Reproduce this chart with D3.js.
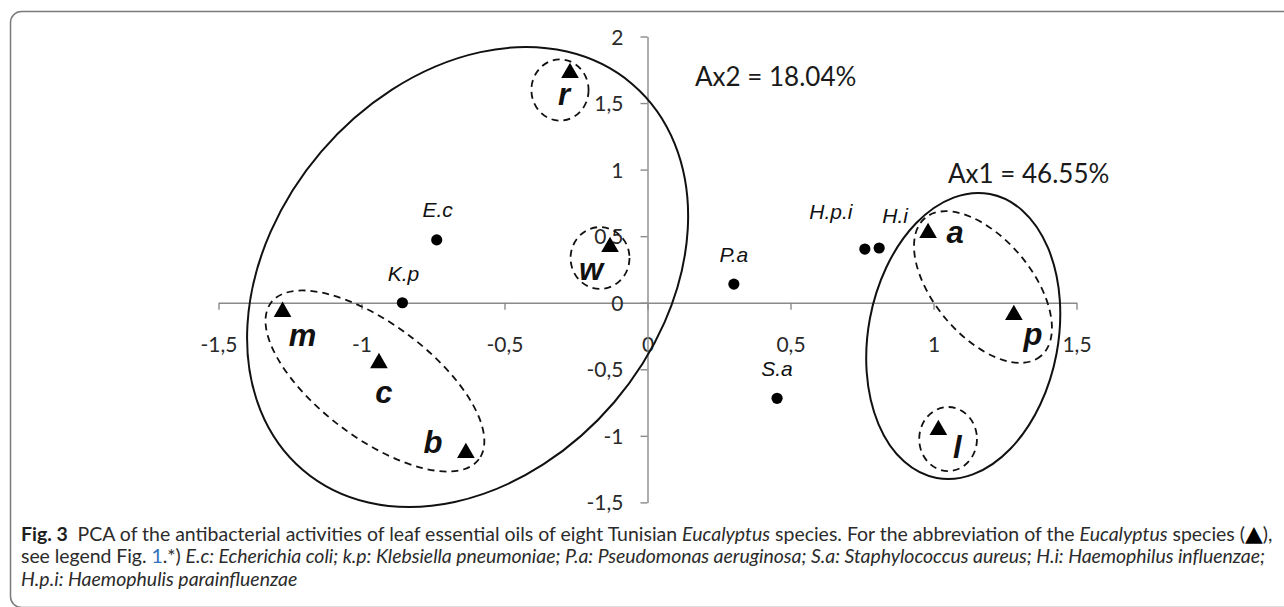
<!DOCTYPE html>
<html>
<head>
<meta charset="utf-8">
<script src="https://cdn.jsdelivr.net/npm/d3@7"></script>
<style>
  body { margin: 0; background: #fff; }
  svg { display: block; }
</style>
</head>
<body>
<svg id="chart" width="1284" height="607"></svg>
<script>
// Eucalyptus species scores (triangles)
const speciesNames = ["r", "w", "m", "c", "b", "a", "p", "l"];
const speciesAx1 = [-0.271, -0.131, -1.276, -0.939, -0.635, 0.981, 1.281, 1.017];
const speciesAx2 = [1.726, 0.419, -0.068, -0.453, -1.129, 0.524, -0.092, -0.956];

// bacteria scores (dots)
const bacteriaNames = ["E.c", "K.p", "P.a", "H.p.i", "H.i", "S.a"];
const bacteriaAx1 = [-0.737, -0.857, 0.302, 0.76, 0.81, 0.453];
const bacteriaAx2 = [0.472, 0.0, 0.14, 0.403, 0.411, -0.718];

// tick values
const xTicks = [-1.5, -1, -0.5, 0, 0.5, 1, 1.5];
const yTicks = [-1.5, -1, -0.5, 0, 0.5, 1, 1.5, 2];

// grouping ellipses: centre on the axes, radii in Ax1 units, rotation in degrees
const groupCx = [-0.629, 1.104, -0.306, -0.166, -0.953, 1.173, 1.051];
const groupCy = [0.193, -0.25, 1.598, 0.336, -0.588, 0.118, -1.024];
const groupRx = [0.887, 0.332, 0.100, 0.103, 0.455, 0.315, 0.101];
const groupRy = [0.674, 0.505, 0.107, 0.108, 0.199, 0.171, 0.112];
const groupAngle = [-49.5, 10.6, 0, 0, 37, 50, 0];
const groupDashed = [false, false, true, true, true, true, true];

const axisTitles = ["Ax2 = 18.04%", "Ax1 = 46.55%"];

// label placement (pixels from the mark, baseline)
const speciesLabelOffset = {
    r: [-6, 32], w: [-19, 33], m: [20, 34], c: [5, 40],
    b: [-33, 0], a: [27, 10], p: [19, 30], l: [19, 28]
};
const bacteriaLabelOffset = {
    "E.c": [1, -23], "K.p": [1, -21.5], "P.a": [0, -22],
    "H.p.i": [-34, -30], "H.i": [16, -25], "S.a": [0, -22]
};

const svg = d3.select("#chart");

// Frame round figure
svg.append("rect")
    .attr("x", 10.5)
    .attr("y", 11.5)
    .attr("width", 1300)
    .attr("height", 596)
    .attr("rx", 11)
    .attr("fill", "none")
    .attr("stroke", "#7a7a7a")
    .attr("stroke-width", 1.5);

// Scales
const xScale = d3.scaleLinear().domain([-1.5, 1.5]).range([218.5, 1076.5]);
const yScale = d3.scaleLinear().domain([-1.5, 2]).range([502.4, 36.5]);
const unit = xScale(1) - xScale(0);

const axisColor = "#8a8a8a";
const tickFont = "Lato, Carlito, 'Open Sans', sans-serif";

// X axis (crosses at y = 0)
const xAxis = d3.axisBottom(xScale)
    .tickValues(xTicks)
    .tickSize(7)
    .tickPadding(27)
    .tickSizeOuter(0)
    .tickFormat(d => String(d).replace(".", ","));

const gx = svg.append("g")
    .attr("transform", `translate(0, ${yScale(0)})`)
    .call(xAxis);

// Y axis (crosses at x = 0)
const yAxis = d3.axisLeft(yScale)
    .tickValues(yTicks)
    .tickSize(7)
    .tickPadding(17)
    .tickSizeOuter(0)
    .tickFormat(d => String(d).replace(".", ","));

const gy = svg.append("g")
    .attr("transform", `translate(${xScale(0)}, 0)`)
    .call(yAxis);

[gx, gy].forEach(g => {
    g.select(".domain").attr("stroke", axisColor).attr("stroke-width", 1.4);
    g.selectAll(".tick line").attr("stroke", axisColor).attr("stroke-width", 1.4);
    g.selectAll(".tick text")
        .attr("fill", "#2a2a2a")
        .style("font-family", tickFont)
        .style("font-size", "21px");
});
gy.selectAll(".tick text").attr("dy", "0.36em");

// Ellipses
const groups = d3.range(groupCx.length).map(i => ({
    cx: groupCx[i], cy: groupCy[i], rx: groupRx[i], ry: groupRy[i],
    angle: groupAngle[i], dashed: groupDashed[i]
}));

svg.append("g")
    .selectAll("ellipse")
    .data(groups)
    .join("ellipse")
        .attr("transform", d => `translate(${xScale(d.cx)}, ${yScale(d.cy)}) rotate(${d.angle})`)
        .attr("rx", d => d.rx * unit)
        .attr("ry", d => d.ry * unit)
        .attr("fill", "none")
        .attr("stroke", "#111")
        .attr("stroke-width", d => d.dashed ? 1.8 : 2)
        .attr("stroke-dasharray", d => d.dashed ? "7,5" : null);

// Bacteria points
const bacteria = bacteriaNames.map((n, i) => ({ name: n, x: bacteriaAx1[i], y: bacteriaAx2[i] }));

svg.append("g")
    .selectAll("circle")
    .data(bacteria)
    .join("circle")
        .attr("cx", d => xScale(d.x))
        .attr("cy", d => yScale(d.y))
        .attr("r", 5.6)
        .attr("fill", "#000");

svg.append("g")
    .selectAll("text")
    .data(bacteria)
    .join("text")
        .attr("x", d => xScale(d.x) + bacteriaLabelOffset[d.name][0])
        .attr("y", d => yScale(d.y) + bacteriaLabelOffset[d.name][1])
        .attr("text-anchor", "middle")
        .attr("font-family", "'Liberation Sans', Arial, sans-serif")
        .attr("font-style", "italic")
        .attr("font-size", "21px")
        .attr("fill", "#111")
        .text(d => d.name);

// Species points
const species = speciesNames.map((n, i) => ({ name: n, x: speciesAx1[i], y: speciesAx2[i] }));
const triangle = d3.symbol().type(d3.symbolTriangle).size(135);

svg.append("g")
    .selectAll("path")
    .data(species)
    .join("path")
        .attr("transform", d => `translate(${xScale(d.x)}, ${yScale(d.y)})`)
        .attr("d", triangle)
        .attr("fill", "#000");

svg.append("g")
    .selectAll("text")
    .data(species)
    .join("text")
        .attr("x", d => xScale(d.x) + speciesLabelOffset[d.name][0])
        .attr("y", d => yScale(d.y) + speciesLabelOffset[d.name][1])
        .attr("text-anchor", "middle")
        .attr("font-family", "'Liberation Sans', Arial, sans-serif")
        .attr("font-style", "italic")
        .attr("font-weight", "bold")
        .attr("font-size", "31px")
        .attr("fill", "#111")
        .text(d => d.name);

// Axis inertia notes
svg.append("text")
    .attr("x", 695).attr("y", 85.5)
    .attr("font-family", tickFont)
    .attr("font-size", "26px")
    .attr("fill", "#1a1a1a")
    .text(axisTitles[0]);

svg.append("text")
    .attr("x", 948).attr("y", 182.5)
    .attr("font-family", tickFont)
    .attr("font-size", "26px")
    .attr("fill", "#1a1a1a")
    .text(axisTitles[1]);

// Caption
const captionLines = [
    [["Fig. 3", "b"], ["\u2002PCA of the antibacterial activities of leaf essential oils of eight Tunisian ", ""],
     ["Eucalyptus", "i"], [" species. For the abbreviation of the ", ""], ["Eucalyptus", "i"], [" species (", ""],
     ["\u25B2", "sym"], ["),", ""]],
    [["see legend Fig. ", ""], ["1", "link"], [".*) ", ""],
     ["E.c: Echerichia coli; k.p: Klebsiella pneumoniae; P.a: Pseudomonas aeruginosa; S.a: Staphylococcus aureus; H.i: Haemophilus influenzae;", "i"]],
    [["H.p.i: Haemophulis parainfluenzae", "i"]]
];

const caption = svg.append("g")
    .attr("font-family", "Lato, 'Open Sans', sans-serif")
    .attr("font-size", "18.5px")
    .attr("fill", "#2b2b2b");

const lineTexts = captionLines.map((parts, li) => {
    const t = caption.append("text")
        .attr("x", 0)
        .attr("y", 541 + li * 22.5);
    parts.forEach(([s, kind]) => {
        const ts = t.append("tspan").text(s);
        if (kind === "b") ts.attr("font-weight", "bold").attr("fill", "#1e1e1e");
        if (kind === "i") ts.attr("font-style", "italic");
        if (kind === "link") ts.attr("fill", "#2f6fc0");
        if (kind === "sym") ts.attr("font-family", "'DejaVu Sans', sans-serif").attr("font-size", "22px").attr("fill", "#000");
    });
    return t;
});

// squeeze the caption horizontally so the first line spans the figure
const w1 = lineTexts[0].node().getComputedTextLength();
const sx = 1252 / w1;
caption.attr("transform", `translate(21, 0) scale(${sx}, 1)`);
const w2 = lineTexts[1].node().getComputedTextLength() * sx;
const n2 = lineTexts[1].text().length;
lineTexts[1].attr("letter-spacing", ((1244 - w2) / n2 / sx) + "px");
</script>
</body>
</html>
